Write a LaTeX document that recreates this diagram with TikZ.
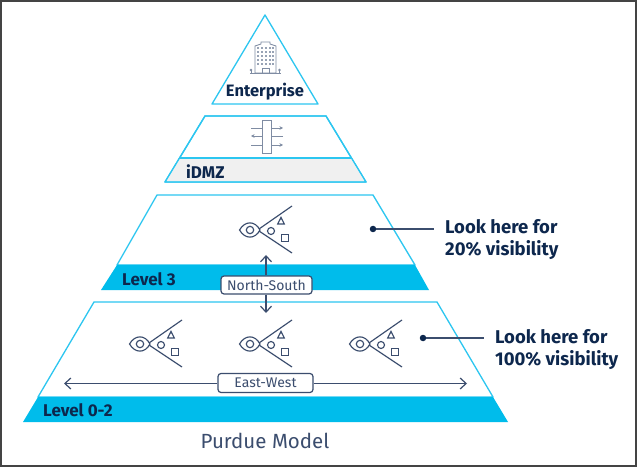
\documentclass[tikz,border=0pt]{standalone}
\usepackage{fontspec}
\setmainfont{Fira Sans}
\usetikzlibrary{arrows.meta}
\definecolor{navy}{HTML}{0D274D}
\definecolor{slate}{HTML}{3B4D6E}
\definecolor{iconlt}{HTML}{7F8CA3}
\definecolor{cyanline}{HTML}{2CC6F0}
\definecolor{cyanband}{HTML}{00BCEB}
\definecolor{bandgray}{HTML}{F0F0F0}
\definecolor{framegray}{HTML}{444444}
\tikzset{
  x=1pt,y=-1pt,
  tier/.style={draw=cyanline,line width=1.3pt,line join=round,fill=white},
  cband/.style={fill=cyanband,draw=none},
  bandlabel/.style={anchor=west,inner sep=0pt,text=navy,font=\bfseries\fontsize{17}{19}\selectfont},
  flowbox/.style={draw=slate,line width=1.2pt,rounded corners=3pt,fill=white,text=slate,inner sep=0pt,font=\fontsize{14}{16}\selectfont},
  flowline/.style={draw=slate,line width=1.2pt,-{Straight Barb[length=6pt,width=11pt,line width=1.2pt]}},
  callout/.style={anchor=west,inner sep=0pt,align=left,text=navy,font=\bfseries\fontsize{18.5}{22}\selectfont},
  leader/.style={draw=slate,line width=1.1pt},
  dotn/.style={circle,fill=navy,inner sep=0pt,minimum size=6.5pt},
  icon/.style={draw=slate,line width=1.15pt},
  eyeicon/.pic={
    \draw[icon] (-10.5,0) .. controls (-5,-9.5) and (5,-9.5) .. (10,0) .. controls (5,9.5) and (-5,9.5) .. (-10.5,0) -- cycle;
    \draw[icon] (0,0) circle (3.7);
    \draw[icon] (42,-24) -- (9,-1) (9,1) -- (42,23);
    \draw[icon] (21,1) circle (3.5);
    \draw[icon] (31,-12.5) -- (27.7,-6) -- (34.3,-6) -- cycle;
    \draw[icon] (31.5,4.5) rectangle (38.5,11.5);
  }
}
\begin{document}
\begin{tikzpicture}
\useasboundingbox (0,0) rectangle (638,468);
\fill[white] (0,0) rectangle (638,468);
\draw[framegray,line width=1.5pt] (1,1) rectangle (636,466);
% Enterprise
\draw[tier] (265,15) -- (318,104) -- (212,104) -- cycle;
\node[inner sep=0pt,text=navy,font=\bfseries\fontsize{16.5}{18}\selectfont] (enterprise) at (265,92) {Enterprise};
% building
\begin{scope}[line width=0.9pt]
  \draw[iconlt] (255,73) -- (255,46) -- (261,44) -- (261,42) -- (270,42) -- (270,44) -- (276,46) -- (276,73) -- cycle;
  \foreach \yy in {48,52,56,60,64}
    \foreach \xx in {258,262,266,270,273}
      \fill[iconlt!80] (\xx-0.8,\yy-0.8) rectangle (\xx+0.8,\yy+0.8);
  \draw[iconlt] (250,73) -- (281,73);
  \draw[iconlt] (262,73) -- (262,68) -- (269,68) -- (269,73);
  \draw[iconlt] (251,70) -- (251,73) (279.5,70) -- (279.5,73);
  \fill[iconlt] (251,70) circle (1.4) (279.5,70) circle (1.4);
\end{scope}
% iDMZ
\draw[tier] (205,116) -- (326,116) -- (366,182) -- (165,182) -- cycle;
\fill[bandgray] (180,158) -- (351,158) -- (365,181.4) -- (166,181.4) -- cycle;
\draw[draw=cyanline,line width=1.3pt] (180,158) -- (351,158);
\draw[tier,fill=none] (205,116) -- (326,116) -- (366,182) -- (165,182) -- cycle;
\node[bandlabel] (idmz) at (186,171.5) {iDMZ};
\begin{scope}[line width=0.9pt]
  \draw[iconlt,-{Stealth[length=3.5pt,width=3.5pt]}] (251,128) -- (283,128);
  \draw[iconlt,-{Stealth[length=3.5pt,width=3.5pt]}] (283,136) -- (251,136);
  \draw[iconlt,-{Stealth[length=3.5pt,width=3.5pt]}] (251,145) -- (283,145);
  \draw[iconlt,fill=white] (262,120) rectangle (271,153);
\end{scope}
% Level 3
\draw[tier] (157,195) -- (373,195) -- (415,265) -- (117,265) -- cycle;
\fill[cband] (117,265) -- (415,265) -- (429,290) -- (101,290) -- cycle;
\node[bandlabel] (level3) at (122,279) {Level 3};
\pic at (250,230) {eyeicon};
% Level 0-2
\draw[tier] (94,302) -- (437,302) -- (493,397) -- (38,397) -- cycle;
\fill[cband] (38,397) -- (493,397) -- (508,422) -- (23,422) -- cycle;
\node[bandlabel] (level02) at (43,410.5) {Level 0-2};
\pic at (140,344) {eyeicon};
\pic at (250,344) {eyeicon};
\pic at (360,344) {eyeicon};
% North-South
\node[flowbox,minimum width=91pt,minimum height=18pt] (ns) at (266.5,285) {North-South};
\coordinate (nsup) at (266,255);
\coordinate (nsdn) at (266,313);
\draw[flowline] (ns.north -| nsup) -- (nsup);
\draw[flowline] (ns.south -| nsdn) -- (nsdn);
% East-West
\node[flowbox,minimum width=95pt,minimum height=19pt] (ew) at (265.5,383) {East-West};
\coordinate (ewl) at (64,383.5);
\coordinate (ewr) at (467,383.5);
\draw[flowline] (ew.west |- ewl) -- (ewl);
\draw[flowline] (ew.east |- ewr) -- (ewr);
% Callouts
\node[callout] (look20) at (445,239.5) {Look here for\\20\% visibility};
\node[dotn] (dot20) at (373,229) {};
\coordinate (end20) at (434,229);
\draw[leader] (dot20) -- (end20);
\node[callout] (look100) at (495,349.5) {Look here for\\100\% visibility};
\node[dotn] (dot100) at (423,338) {};
\coordinate (end100) at (484,338);
\draw[leader] (dot100) -- (end100);
% Title
\node[inner sep=0pt,text=slate,font=\fontsize{20.5}{22}\selectfont] (title) at (265,441) {Purdue Model};
\end{tikzpicture}
\end{document}
